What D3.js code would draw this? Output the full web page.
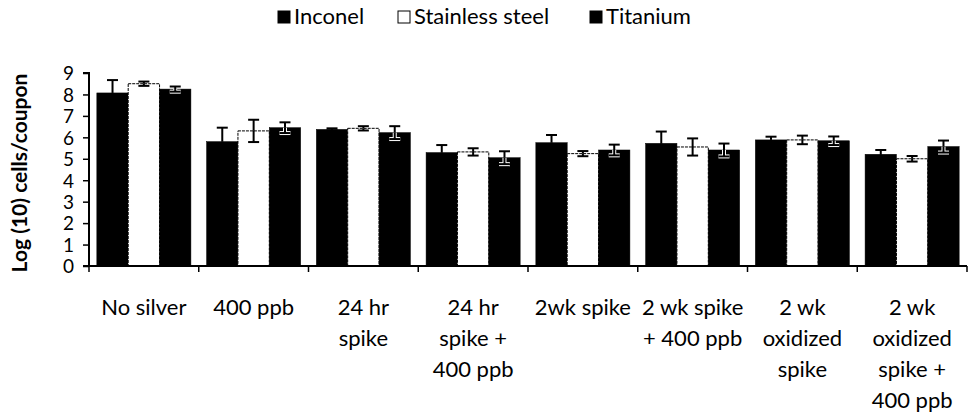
<!DOCTYPE html>
<html><head><meta charset="utf-8">
<script src="https://cdn.jsdelivr.net/npm/d3@7/dist/d3.min.js"></script>
<style>body{margin:0;background:#fff}svg{display:block}text{font-family:Lato,"Open Sans",sans-serif;fill:#000}</style>
</head><body>
<script>
const categories = [["No silver"],["400 ppb"],["24 hr","spike"],["24 hr","spike +","400 ppb"],["2wk spike"],["2 wk spike","+ 400 ppb"],["2 wk","oxidized","spike"],["2 wk","oxidized","spike +","400 ppb"]];
const seriesNames = ["Inconel","Stainless steel","Titanium"];
const inconel = [8.07, 5.8, 6.37, 5.29, 5.75, 5.72, 5.88, 5.21];
const stainless = [8.5, 6.3, 6.42, 5.32, 5.24, 5.55, 5.88, 5.0];
const titanium = [8.25, 6.45, 6.22, 5.05, 5.41, 5.41, 5.84, 5.57];
const inconelErr = [0.6, 0.65, 0.05, 0.35, 0.36, 0.55, 0.15, 0.2];
const stainlessErr = [0.1, 0.52, 0.1, 0.17, 0.12, 0.4, 0.2, 0.13];
const titaniumErr = [0.12, 0.25, 0.3, 0.3, 0.25, 0.3, 0.2, 0.28];
const yTicks = [0,1,2,3,4,5,6,7,8,9];

const W=974,H=415;
const svg=d3.select("body").append("svg").attr("width",W).attr("height",H);
const x0=89,x1=967,yTop=73,yBot=266;
const x=d3.scaleBand().domain(d3.range(categories.length)).range([x0,x1]).paddingInner(0).paddingOuter(0);
const xs=d3.scaleBand().domain(seriesNames).range([0,x.bandwidth()]).paddingInner(0).paddingOuter(0.25);
const y=d3.scaleLinear().domain([0,9]).range([yBot,yTop]);
const vals=[inconel,stainless,titanium], errs=[inconelErr,stainlessErr,titaniumErr];
const fills=["#000","#fff","#000"];

// bars
seriesNames.forEach((s,si)=>{
  svg.append("g").selectAll("rect").data(vals[si]).join("rect")
    .attr("x",(d,i)=>x(i)+xs(s)).attr("width",xs.bandwidth())
    .attr("y",d=>y(d)).attr("height",d=>y(0)-y(d))
    .attr("fill",fills[si]).attr("stroke","#000").attr("stroke-width",si===1?1:0.5)
    .attr("stroke-dasharray",si===1?"3,1":null);
});
// error bars
seriesNames.forEach((s,si)=>{
  const g=svg.append("g");
  vals[si].forEach((v,i)=>{
    const cx=x(i)+xs(s)+xs.bandwidth()/2, e=errs[si][i], cw=5.5;
    const lo=[[cx,y(v),cx,y(v-e)],[cx-cw,y(v-e),cx+cw,y(v-e)]];
    const hi=[[cx,y(v),cx,y(v+e)],[cx-cw,y(v+e),cx+cw,y(v+e)]];
    if(si===2){lo.forEach(l=>g.append("line").attr("x1",l[0]).attr("y1",l[1]).attr("x2",l[2]).attr("y2",l[3]).attr("stroke","#fff").attr("stroke-width",4));}
    lo.concat(hi).forEach(l=>g.append("line").attr("x1",l[0]).attr("y1",l[1]).attr("x2",l[2]).attr("y2",l[3]).attr("stroke","#000").attr("stroke-width",2));
  });
});
// y axis
const ya=svg.append("g").attr("transform",`translate(${x0},0)`).call(d3.axisLeft(y).tickValues(yTicks).tickSize(6).tickPadding(9));
ya.select(".domain").attr("stroke","#000").attr("stroke-width",2).attr("d",`M-6,${yTop}H0V${yBot}H-6`);
ya.selectAll(".tick line").attr("stroke","#000").attr("stroke-width",1.5);
ya.selectAll(".tick text").style("font-size","19px").attr("dy","0.36em");
// x axis
const xa=svg.append("g").attr("transform",`translate(0,${yBot})`);
xa.append("line").attr("x1",x0).attr("x2",x1).attr("stroke","#000").attr("stroke-width",2);
d3.range(categories.length+1).forEach(i=>{
  const xx = i<categories.length? x(i): x1;
  xa.append("line").attr("x1",xx).attr("x2",xx).attr("y1",0).attr("y2",6).attr("stroke","#000").attr("stroke-width",1.5);
});
categories.forEach((c,i)=>{
  const t=xa.append("text").attr("text-anchor","middle").attr("x",x(i)+x.bandwidth()/2).attr("y",49).style("font-size","22px");
  c.forEach((ln,k)=>t.append("tspan").attr("x",x(i)+x.bandwidth()/2).attr("dy",k?31:0).text(ln));
});
// y label
svg.append("text").attr("transform","translate(27,173) rotate(-90)").attr("text-anchor","middle")
  .style("font-size","21px").style("font-weight","bold").text("Log (10) cells/coupon");
// legend
const leg=[[278,"Inconel"],[398,"Stainless steel"],[590,"Titanium"]];
leg.forEach((l,i)=>{
  svg.append("rect").attr("x",l[0]).attr("y",11).attr("width",12).attr("height",12).attr("fill",fills[i]).attr("stroke","#000").attr("stroke-width",1);
  svg.append("text").attr("x",l[0]+16).attr("y",24).style("font-size","22px").text(seriesNames[i]);
});
</script>
</body></html>
